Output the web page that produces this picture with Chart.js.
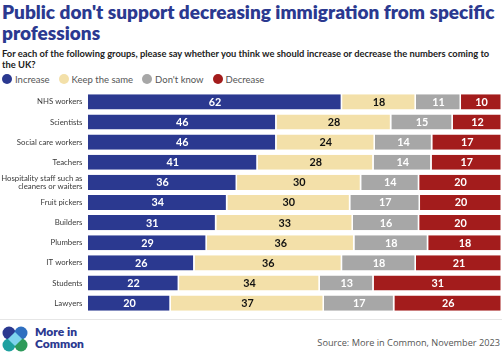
<!DOCTYPE html>
<html><head><meta charset="utf-8">
<script src="https://cdn.jsdelivr.net/npm/chart.js@4"></script>
<style>
html,body{margin:0;padding:0;background:#fff;width:502px;height:357px;overflow:hidden;font-family:Lato,"Noto Sans",sans-serif;}
#title{position:absolute;left:2px;top:1px;width:500px;font-weight:800;font-size:19px;line-height:21px;color:#2b3990;}
#sub{position:absolute;left:2px;top:49px;width:492px;font-weight:700;font-size:9.35px;line-height:10.5px;color:#222;}
#legend{position:absolute;left:2px;top:73.5px;font-size:9.5px;color:#555;display:flex;align-items:center;}
#legend span.i{display:flex;align-items:center;margin-right:9px;}
#legend span.d{display:inline-block;width:10px;height:10px;border-radius:50%;margin-right:3px;}
#wrap{position:absolute;left:0;top:82px;width:502px;height:241px;}
#sep{position:absolute;left:0;top:319px;width:502px;height:1px;background:#e6e6e6;}
#logo{position:absolute;left:2px;top:326px;}
#logotext{position:absolute;left:35px;top:326px;font-weight:800;font-size:12px;line-height:12px;color:#2b3990;}
#src{position:absolute;right:2px;top:336px;font-size:9.2px;color:#555;font-family:"Open Sans",sans-serif;}
</style></head>
<body>
<div id="title">Public don't support decreasing immigration from specific professions</div>
<div id="sub">For each of the following groups, please say whether you think we should increase or decrease the numbers coming to the UK?</div>
<div id="legend"></div>
<div id="wrap"><canvas id="c"></canvas></div>
<div id="sep"></div>
<svg id="logo" width="26" height="26" viewBox="0 0 26 26">
<circle cx="7" cy="7" r="6.5" fill="#2b3990"/>
<circle cx="19" cy="7" r="6.5" fill="#2f6fc0"/>
<circle cx="7" cy="19" r="6.5" fill="#1ea0a0"/>
<circle cx="19" cy="19" r="6.5" fill="#2e9a5a"/>
<rect x="8" y="8" width="10" height="10" transform="rotate(45 13 13)" fill="#7fd3ee"/>
</svg>
<div id="logotext">More in<br>Common</div>
<div id="src">Source: More in Common, November 2023</div>
<script>
const categories = ["NHS workers","Scientists","Social care workers","Teachers",["Hospitality staff such as","cleaners or waiters"],"Fruit pickers","Builders","Plumbers","IT workers","Students","Lawyers"];
const seriesNames = ["Increase","Keep the same","Don't know","Decrease"];
const increase = [62,46,46,41,36,34,31,29,26,22,20];
const keepSame = [18,28,24,28,30,30,33,36,36,34,37];
const dontKnow = [11,15,14,14,14,17,16,18,18,13,17];
const decrease = [10,12,17,17,20,20,20,18,21,31,26];

const colors = ["#2b3990","#f3e0a9","#a7a7a7","#a31c1c"];
const labelColors = ["#ffffff","#111111","#ffffff","#ffffff"];
const raw = [increase, keepSame, dontKnow, decrease];
const totals = categories.map((_, i) => raw.reduce((s, a) => s + a[i], 0));

const lg = document.getElementById('legend');
seriesNames.forEach((n, k) => {
  lg.insertAdjacentHTML('beforeend', `<span class="i"><span class="d" style="background:${colors[k]}"></span>${n}</span>`);
});

const labelPlugin = {
  id: 'segLabels',
  afterDatasetsDraw(chart) {
    const ctx = chart.ctx;
    ctx.save();
    ctx.font = 'bold 10.8px Lato, "Noto Sans", sans-serif';
    ctx.textAlign = 'center';
    ctx.textBaseline = 'middle';
    chart.data.datasets.forEach((ds, k) => {
      const meta = chart.getDatasetMeta(k);
      meta.data.forEach((el, i) => {
        const p = el.getCenterPoint();
        ctx.fillStyle = labelColors[k];
        ctx.fillText(String(raw[k][i]), p.x, p.y + 0.5);
      });
    });
    ctx.restore();
  }
};

new Chart(document.getElementById('c'), {
  type: 'bar',
  data: {
    labels: categories,
    datasets: raw.map((arr, k) => ({
      label: seriesNames[k],
      data: arr.map((v, i) => v / totals[i] * 100),
      backgroundColor: colors[k],
      borderColor: '#ffffff',
      borderWidth: {left: 0, right: 1.5, top: 0, bottom: 0},
      borderSkipped: false,
      barPercentage: 0.75,
      categoryPercentage: 1
    }))
  },
  options: {
    indexAxis: 'y',
    responsive: true,
    maintainAspectRatio: false,
    animation: false,
    layout: {padding: 0},
    plugins: {legend: {display: false}, tooltip: {enabled: false}},
    scales: {
      x: {stacked: true, display: false, min: 0, max: 100},
      y: {
        stacked: true,
        grid: {display: false, drawTicks: false, tickLength: 0},
        border: {display: false},
        ticks: {autoSkip: false, color: '#3a3a3a', font: {size: 7.8, family: 'Lato, "Noto Sans", sans-serif', lineHeight: 1.1}, padding: 5.5},
        afterFit(s) { s.width = 88; }
      }
    }
  },
  plugins: [labelPlugin]
});
</script>
</body></html>
